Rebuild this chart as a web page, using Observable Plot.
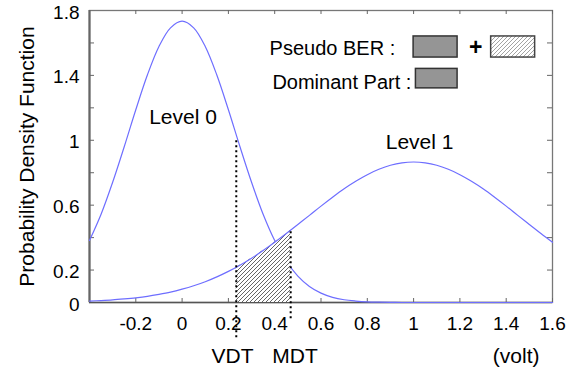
<!DOCTYPE html>
<html><head><meta charset="utf-8">
<script src="https://cdn.jsdelivr.net/npm/d3@7"></script>
<script src="https://cdn.jsdelivr.net/npm/@observablehq/plot@0.6"></script>
<style>body{margin:0;background:#fff;} svg{display:block;}</style>
</head><body><div id="chart"></div>
<script>
// ---- data ----
const voltage = [-0.4,-0.35,-0.3,-0.25,-0.2,-0.15,-0.1,-0.05,0,0.05,0.1,0.15,0.2,0.25,0.3,0.35,0.4,0.45,0.5,0.55,0.6,0.65,0.7,0.75,0.8,0.85,0.9,0.95,1.0,1.05,1.1,1.15,1.2,1.25,1.3,1.35,1.4,1.45,1.5,1.55,1.6];
const level0 = [0.382,0.544,0.741,0.960,1.188,1.402,1.578,1.693,1.734,1.693,1.578,1.402,1.188,0.960,0.741,0.544,0.382,0.256,0.163,0.099,0.058,0.032,0.017,0.009,0.004,0.002,0.001,0,0,0,0,0,0,0,0,0,0,0,0,0,0];
const level1 = [0.009,0.012,0.016,0.022,0.029,0.038,0.050,0.064,0.082,0.103,0.128,0.158,0.192,0.230,0.273,0.320,0.371,0.425,0.481,0.537,0.594,0.649,0.701,0.747,0.788,0.821,0.846,0.861,0.866,0.861,0.846,0.821,0.788,0.747,0.701,0.649,0.594,0.537,0.481,0.425,0.371];
const hatchX = [0.234,0.25,0.3,0.35,0.4,0.45,0.469];
const hatchTop = [0.217,0.230,0.273,0.320,0.371,0.425,0.446];
const thresholdNames = ["VDT","MDT"];
const thresholdX = [0.234,0.469];
const thresholdTop = [1.01,0.446];
const xTicks = [-0.2,0,0.2,0.4,0.6,0.8,1,1.2,1.4,1.6];
const yTickLabels = [0,0.2,0.6,1,1.4,1.8];
const yMinorTicks = [0.2,0.4,0.6,0.8,1,1.2,1.4,1.6];
const xDomain = [-0.4,1.6];
const yDomain = [0,1.8];

const curve0 = voltage.map((v,i)=>({x:v,y:level0[i]}));
const curve1 = voltage.map((v,i)=>({x:v,y:level1[i]}));
const hatch = hatchX.map((v,i)=>({x:v,y:hatchTop[i]}));
const thresholds = thresholdNames.map((n,i)=>({name:n,x:thresholdX[i],top:thresholdTop[i]}));

const W = 580, H = 371, mL = 89, mR = 28, mT = 10, mB = 69;
const fw = W - mL - mR, fh = H - mT - mB;
const blue = "#6e6eff";
const axisGray = "#777";

const chart = Plot.plot({
  width: W, height: H, marginLeft: mL, marginRight: mR, marginTop: mT, marginBottom: mB,
  style: {fontFamily: "'Liberation Sans', Arial, sans-serif", fontSize: "19px", color: "#000", background: "#fff", overflow: "visible"},
  x: {domain: xDomain},
  y: {domain: yDomain},
  marks: [
    Plot.frame({stroke: axisGray, strokeWidth: 1.3}),
    Plot.ruleX([xDomain[0]], {stroke: "#666", strokeWidth: 2.2}),
    Plot.ruleY([yDomain[0]], {stroke: "#555", strokeWidth: 1.6}),
    // inward ticks
    Plot.tickX(xTicks, {x: d=>d, insetTop: fh-4, stroke: "#666"}),
    Plot.tickX(xTicks, {x: d=>d, insetBottom: fh-4, stroke: "#666"}),
    Plot.tickY(yMinorTicks, {y: d=>d, insetRight: fw-5, stroke: "#666"}),
    Plot.tickY(yMinorTicks, {y: d=>d, insetLeft: fw-5, stroke: "#666"}),
    Plot.axisX({ticks: xTicks, tickSize: 0, tickPadding: 14, tickFormat: d=>String(d), label: null, fontSize: 19}),
    Plot.axisY({ticks: yTickLabels, tickSize: 0, tickPadding: 10, tickFormat: d=>String(d), label: null, fontSize: 19, dy: 2}),
    Plot.line(curve0, {x: "x", y: "y", stroke: blue, strokeWidth: 1.2, curve: "catmull-rom"}),
    Plot.areaY(hatch, {x: "x", y: "y", fill: "url(#hatch)", curve: "catmull-rom"}),
    Plot.line(curve1, {x: "x", y: "y", stroke: blue, strokeWidth: 1.2, curve: "catmull-rom"}),
    Plot.ruleX(thresholds, {x: "x", y1: d => d.name === "VDT" ? -0.217 : -0.1, y2: "top", stroke: "#000", strokeWidth: 2, strokeDasharray: "2,3"}),
    Plot.text(thresholds, {x: d => d.name === "VDT" ? 0.218 : 0.488, y: -0.332, text: "name", fontSize: 21}),
    Plot.text(["(volt)"], {x: 1.443, y: -0.332, text: d=>d, fontSize: 21}),
    Plot.text(["Level 0"], {x: 0.004, y: 1.143, text: d=>d, fontSize: 21}),
    Plot.text(["Level 1"], {x: 1.026, y: 0.986, text: d=>d, fontSize: 21}),
    Plot.text(["Probability Density Function"], {frameAnchor: "left", textAnchor: "middle", rotate: -90, dx: -62, text: d=>d, fontSize: 21}),
    // legend
    Plot.text(["Pseudo BER :"], {x: 0.378, y: 1.564, text: d=>d, textAnchor: "start", fontSize: 20}),
    Plot.text(["Dominant Part :"], {x: 0.39, y: 1.358, text: d=>d, textAnchor: "start", fontSize: 20}),
    Plot.rect([{x1: 1.0, x2: 1.19, y1: 1.51, y2: 1.64}, {x1: 1.01, x2: 1.19, y1: 1.32, y2: 1.44}], {x1: "x1", x2: "x2", y1: "y1", y2: "y2", fill: "#959595", stroke: "#333", strokeWidth: 1.5}),
    Plot.rect([{x1: 1.335, x2: 1.525, y1: 1.51, y2: 1.64}], {x1: "x1", x2: "x2", y1: "y1", y2: "y2", fill: "url(#hatchLight)", stroke: "#444", strokeWidth: 1.5}),
    Plot.text(["+"], {x: 1.268, y: 1.572, text: d=>d, fontSize: 23, fontWeight: "bold"})
  ]
});
chart.insertAdjacentHTML("afterbegin",
  `<defs>
    <pattern id="hatch" patternUnits="userSpaceOnUse" width="4" height="4">
      <rect width="4" height="4" fill="#fff"/>
      <path d="M-1,1 l2,-2 M0,4 l4,-4 M3,5 l2,-2" stroke="#555" stroke-width="0.9"/>
    </pattern>
    <pattern id="hatchLight" patternUnits="userSpaceOnUse" width="4" height="4">
      <rect width="4" height="4" fill="#fff"/>
      <path d="M-1,1 l2,-2 M0,4 l4,-4 M3,5 l2,-2" stroke="#999" stroke-width="0.9"/>
    </pattern>
  </defs>`);
document.getElementById("chart").appendChild(chart);
</script>
</body></html>
